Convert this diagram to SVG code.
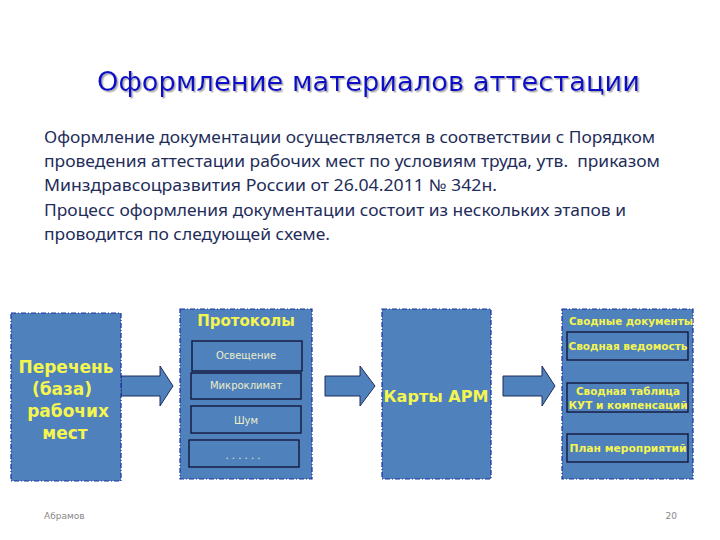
<svg xmlns="http://www.w3.org/2000/svg" width="720" height="540" viewBox="0 0 720 540">
<style>
.box{fill:#4F81BD;stroke:#1A2FA0;stroke-width:1.2;stroke-dasharray:5 2 1 2}
.inner{fill:#4F81BD;stroke:#14183C;stroke-width:1.4}
.yb{font-family:"DejaVu Sans","Liberation Sans",sans-serif;font-weight:bold;fill:#F5F550;text-anchor:middle}
.sm{font-family:"DejaVu Sans","Liberation Sans",sans-serif;fill:#EDEDC8;text-anchor:middle;font-size:10px}
.para{font-family:"Noto Sans","Liberation Sans",sans-serif;fill:#1F2D5A;font-size:16px}
.arrow{fill:#4F81BD;stroke:#1F2D5A;stroke-width:1}
.foot{font-family:"DejaVu Sans","Liberation Sans",sans-serif;fill:#888;font-size:9px}
</style>
<defs>
<filter id="sh" x="-5%" y="-20%" width="110%" height="150%">
<feDropShadow dx="1.5" dy="1.5" stdDeviation="0.6" flood-color="#999" flood-opacity="0.8"/>
</filter>
</defs>
<rect width="720" height="540" fill="#fff"/>
<text x="97" y="91" font-family="DejaVu Sans, Liberation Sans, sans-serif" font-size="26" fill="#0A10C8" textLength="543" lengthAdjust="spacingAndGlyphs" filter="url(#sh)">Оформление материалов аттестации</text>
<g id="paragraph">
<text class="para" x="44" y="143" textLength="611" lengthAdjust="spacingAndGlyphs">Оформление документации осуществляется в соответствии с Порядком</text>
<text class="para" x="44" y="167" textLength="616" lengthAdjust="spacingAndGlyphs" xml:space="preserve">проведения аттестации рабочих мест по условиям труда, утв.  приказом</text>
<text class="para" x="44" y="191" textLength="453" lengthAdjust="spacingAndGlyphs">Минздравсоцразвития России от 26.04.2011 № 342н.</text>
<text class="para" x="44" y="216" textLength="582" lengthAdjust="spacingAndGlyphs">Процесс оформления документации состоит из нескольких этапов и</text>
<text class="para" x="44" y="240" textLength="286" lengthAdjust="spacingAndGlyphs">проводится по следующей схеме.</text>
</g>
<g id="connectors">
<polygon class="arrow" points="121,376 160,376 160,366 173,386 160,406 160,396 121,396"/>
<polygon class="arrow" points="325,376 360,376 360,366 375,386 360,406 360,396 325,396"/>
<polygon class="arrow" points="503,376 542,376 542,366 555,386 542,406 542,396 503,396"/>
</g>
<g id="perechen">
<rect class="box" x="11" y="313" width="110" height="168"/>
<text class="yb" font-size="17" x="66" y="373">Перечень</text>
<text class="yb" font-size="17" x="62" y="395">(база)</text>
<text class="yb" font-size="17" x="68" y="417">рабочих</text>
<text class="yb" font-size="17" x="65" y="439">мест</text>
</g>
<g id="protokoly">
<rect class="box" x="180" y="309" width="132" height="170"/>
<text class="yb" font-size="15" x="246" y="326">Протоколы</text>
<rect class="inner" x="192" y="341" width="110" height="30"/>
<text class="sm" x="246" y="359">Освещение</text>
<rect class="inner" x="191" y="373" width="110" height="26"/>
<text class="sm" x="246" y="389">Микроклимат</text>
<rect class="inner" x="191" y="406" width="110" height="27"/>
<text class="sm" x="246" y="424">Шум</text>
<rect class="inner" x="189" y="440" width="110" height="27"/>
<text class="sm" x="243" y="459">. . . . . .</text>
</g>
<g id="karty">
<rect class="box" x="382" y="309" width="109" height="170"/>
<text class="yb" font-size="16" x="436" y="402" textLength="105" lengthAdjust="spacingAndGlyphs">Карты АРМ</text>
</g>
<g id="svodnye">
<rect class="box" x="562" y="309" width="131" height="170"/>
<text class="yb" font-size="11" x="631" y="325" textLength="124" lengthAdjust="spacingAndGlyphs">Сводные документы</text>
<rect class="inner" x="567" y="332" width="121" height="28"/>
<text class="yb" font-size="11" x="628" y="350" textLength="119" lengthAdjust="spacingAndGlyphs">Сводная ведомость</text>
<rect class="inner" x="567" y="383" width="121" height="29"/>
<text class="yb" font-size="11" x="628" y="395" textLength="104" lengthAdjust="spacingAndGlyphs">Сводная таблица</text>
<text class="yb" font-size="11" x="628" y="409" textLength="119" lengthAdjust="spacingAndGlyphs">КУТ и компенсаций</text>
<rect class="inner" x="567" y="434" width="121" height="28"/>
<text class="yb" font-size="11" x="628" y="452" textLength="117" lengthAdjust="spacingAndGlyphs">План мероприятий</text>
</g>
<text class="foot" x="44" y="519">Абрамов</text>
<text class="foot" x="677" y="519" text-anchor="end">20</text>
</svg>
